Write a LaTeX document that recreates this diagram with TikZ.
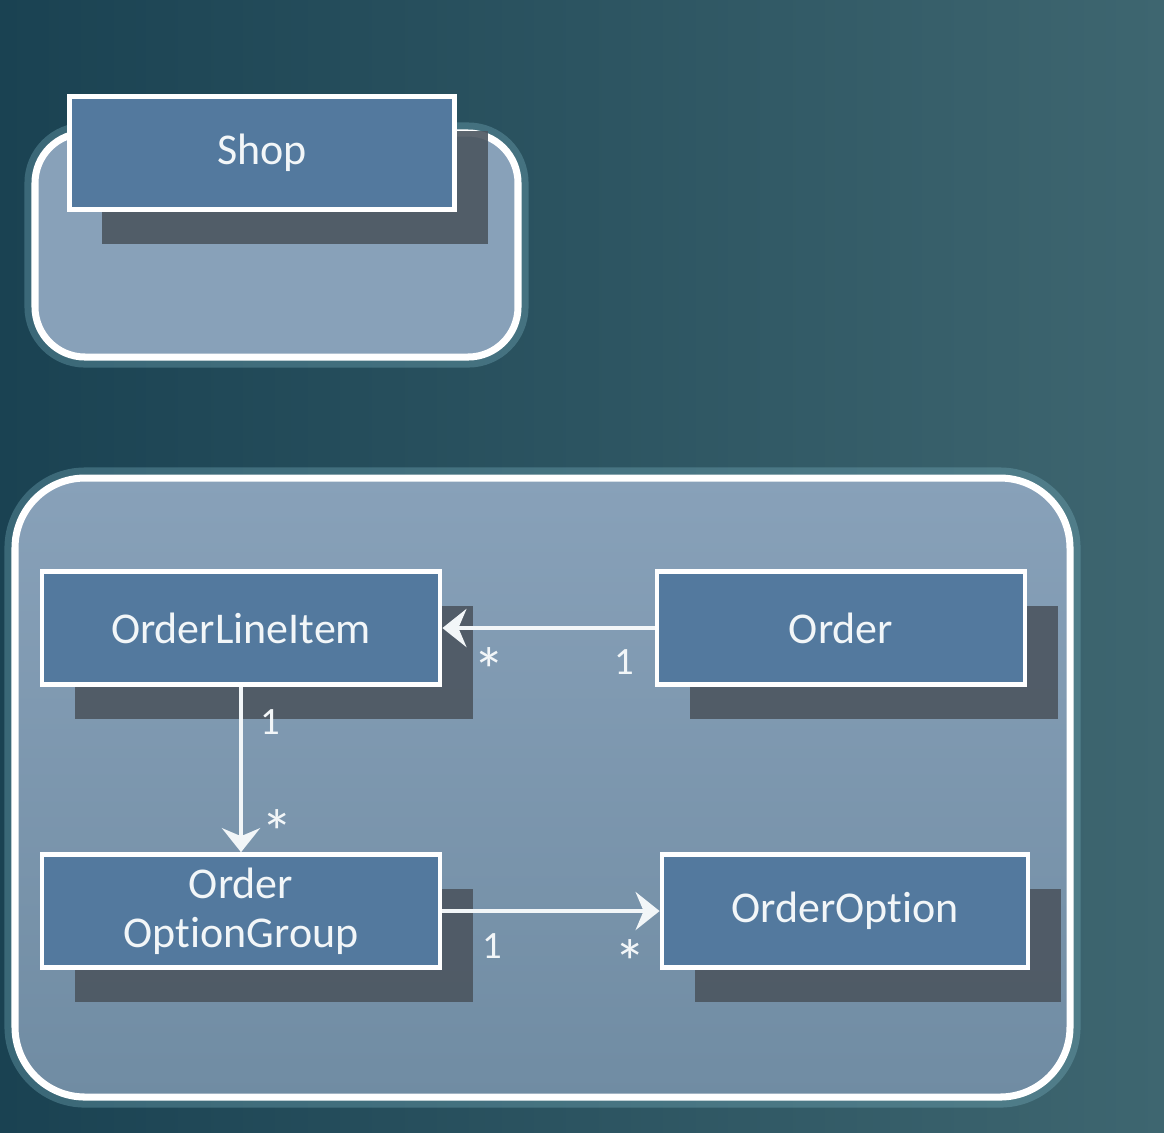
\documentclass[tikz,border=0pt]{standalone}
\usepackage{fontspec}
\setmainfont{Carlito}[Ligatures=NoCommon]
\usetikzlibrary{arrows.meta,shadows}

\definecolor{bgdark}{RGB}{26,66,82}
\definecolor{bglight}{RGB}{62,102,112}
\definecolor{panel}{RGB}{136,161,185}
\definecolor{panellow}{RGB}{112,140,163}
\definecolor{boxfill}{RGB}{83,121,158}
\definecolor{shade}{RGB}{76,86,96}
\definecolor{inkwhite}{RGB}{242,246,248}
\definecolor{halo}{RGB}{120,175,190}

\newcommand{\mstar}{\fontsize{18}{18}\selectfont *}

\begin{document}
\begin{tikzpicture}[x=0.01cm,y=-0.01cm,
  cls/.style={draw=white,line width=1.3pt,fill=boxfill,text=inkwhite,
    minimum height=1.13cm,inner sep=0pt,align=center,font=\fontsize{12.5}{14}\selectfont,
    drop shadow={shadow xshift=0.33cm,shadow yshift=-0.34cm,fill=shade,opacity=0.9}},
  pkg/.style={draw=white,line width=2pt},
  assoc/.style={draw=inkwhite,line width=1.4pt,-{Stealth[length=0.24cm,width=0.38cm,inset=0.08cm]}},
  mult/.style={text=inkwhite,font=\fontsize{11}{12}\selectfont,inner sep=0pt}]

\useasboundingbox (0,0) rectangle (1164,1132);
\shade[left color=bgdark,right color=bglight] (0,0) rectangle (1164,1132);

% packages
\draw[halo,line width=6pt,opacity=0.35,rounded corners=0.5cm] (35,133) rectangle (518,357);
\draw[pkg,fill=panel,rounded corners=0.5cm] (35,133) rectangle (518,357);
\draw[halo,line width=6pt,opacity=0.35,rounded corners=0.7cm] (15,478) rectangle (1070,1097);
\draw[pkg,top color=panel,bottom color=panellow,rounded corners=0.7cm] (15,478) rectangle (1070,1097);

% classes
\node[cls,minimum width=3.85cm] (shop) at (262,153) {Shop};
\node[cls,minimum width=3.98cm] (lineitem) at (241,628) {OrderLineItem};
\node[cls,minimum width=3.68cm] (order) at (841,628) {Order};
\node[cls,minimum width=3.98cm] (optgroup) at (241,911) {Order\\OptionGroup};
\node[cls,minimum width=3.66cm] (option) at (845,911) {OrderOption};

% associations
\draw[assoc] (order) -- (lineitem);
\draw[assoc] (lineitem) -- (optgroup);
\draw[assoc] (optgroup) -- (option);

\node[mult] (m1) at (489,670) {\mstar};
\node[mult] (m2) at (624,662) {1};
\node[mult] (m3) at (270,722) {1};
\node[mult] (m4) at (277,832) {\mstar};
\node[mult] (m5) at (492,946) {1};
\node[mult] (m6) at (630,962) {\mstar};

\end{tikzpicture}
\end{document}
